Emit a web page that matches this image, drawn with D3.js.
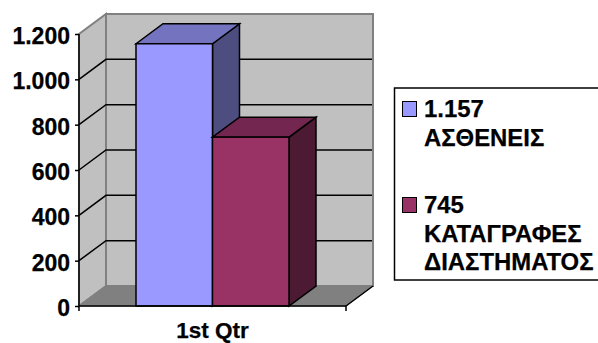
<!DOCTYPE html>
<html><head><meta charset="utf-8">
<script src="https://cdnjs.cloudflare.com/ajax/libs/d3/7.8.5/d3.min.js"></script>
<style>html,body{margin:0;padding:0;background:#fff;overflow:hidden}svg{display:block}
text{font-family:"Liberation Sans",Arial,sans-serif;font-weight:bold;fill:#000;stroke:#000;stroke-width:.25px}</style>
</head><body><svg id="c" width="598" height="343"></svg>
<script>
const categories = ["1st Qtr"];
const seriesNames = [["1.157","ΑΣΘΕΝΕΙΣ"],["745","ΚΑΤΑΓΡΑΦΕΣ","ΔΙΑΣΤΗΜΑΤΟΣ"]];
const seriesValues = [1157, 745];
const tickValues = [0,200,400,600,800,1000,1200];
const tickLabels = ["0","200","400","600","800","1.000","1.200"];
const frontColors = ["#9999ff","#993366"];
const topColors = ["#7373bf","#732650"];
const sideColors = ["#4d4d80","#4d1a33"];

const svg = d3.select("#c");
const y = d3.scaleLinear().domain([0,1200]).range([306,34]);
const x = d3.scaleBand().domain(categories).range([79,346]);
const xs = d3.scaleBand().domain(d3.range(seriesValues.length)).range([x(categories[0]), x(categories[0])+x.bandwidth()]).paddingInner(0).paddingOuter(0.745);
const dx = 27, dy = -20;
const poly = (pts, fill, stroke, sw) => svg.append("polygon").attr("points", pts.map(p=>p.join(",")).join(" ")).attr("fill",fill).attr("stroke",stroke).attr("stroke-width",sw).attr("stroke-linejoin","miter");

const x0 = x.range()[0], x1 = x.range()[1], yb = y(0), yt = y(1200);
poly([[x0,yb],[x0,yt],[x0+dx,yt+dy],[x0+dx,yb+dy]],"#c0c0c0","#808080",2);
poly([[x0+dx,yb+dy],[x0+dx,yt+dy],[x1+dx,yt+dy],[x1+dx,yb+dy]],"#c0c0c0","#808080",2);
poly([[x0,yb],[x0+dx,yb+dy],[x1+dx,yb+dy],[x1,yb]],"#808080","#808080",1);
svg.append("path").attr("d",`M${x1},${yb}L${x1+dx},${yb+dy}`).attr("stroke","#000").attr("stroke-width",1.5);
tickValues.slice(1,-1).forEach(t=>{
  svg.append("path").attr("fill","none").attr("stroke","#000").attr("stroke-width",1.5)
    .attr("d",`M${x0},${y(t)}L${x0+dx},${y(t)+dy}L${x1+dx-1},${y(t)+dy}`);
});
svg.append("path").attr("fill","none").attr("stroke","#808080").attr("stroke-width",1.5)
  .attr("d",`M${x0},${yb}L${x0+dx},${yb+dy}`);
seriesValues.forEach((v,i)=>{
  const l = xs(i), r = l+xs.bandwidth(), t = y(v);
  poly([[r,t],[r+dx,t+dy],[r+dx,yb+dy],[r,yb]],sideColors[i],"#000",1.5);
  poly([[l,t],[l+dx,t+dy],[r+dx,t+dy],[r,t]],topColors[i],"#000",1.5);
  svg.append("rect").attr("x",l).attr("y",t).attr("width",r-l).attr("height",yb-t).attr("fill",frontColors[i]).attr("stroke","#000").attr("stroke-width",1.5);
});
const ay = svg.append("g").attr("transform",`translate(${x0},0)`)
  .call(d3.axisLeft(y).tickValues(tickValues).tickFormat((d,i)=>tickLabels[i]).tickSize(4).tickPadding(5));
ay.selectAll("path,line").attr("stroke","#000").attr("stroke-width",1.5);
ay.select(".domain").attr("d",`M0,${yt}V${yb}`);
ay.selectAll("text").attr("font-size",23).attr("dy","0.41em").style("font-family",'"Liberation Sans",Arial,sans-serif').style("font-weight","bold");
svg.append("path").attr("d",`M${x0},${yb}H${x1}M${x0},${yb}v5M${x1},${yb}v5`).attr("stroke","#000").attr("stroke-width",1.5).attr("fill","none");
svg.selectAll(".cat").data(categories).join("text").attr("class","cat")
  .attr("x",d=>x(d)+x.bandwidth()/2).attr("y",338).attr("text-anchor","middle").attr("font-size",22.5).text(d=>d);
svg.append("rect").attr("x",394.5).attr("y",88).attr("width",215).attr("height",192).attr("fill","#fff").attr("stroke","#000").attr("stroke-width",1.5);
const rowsY = [101,197];
seriesNames.forEach((lines,i)=>{
  svg.append("rect").attr("x",402.5).attr("y",rowsY[i]+.5).attr("width",14).attr("height",15).attr("fill",frontColors[i]).attr("stroke","#000").attr("stroke-width",1);
  lines.forEach((s,j)=>{
    svg.append("text").attr("x",424).attr("y",rowsY[i]+16+j*28.7).attr("font-size",23.9).text(s);
  });
});
</script></body></html>
